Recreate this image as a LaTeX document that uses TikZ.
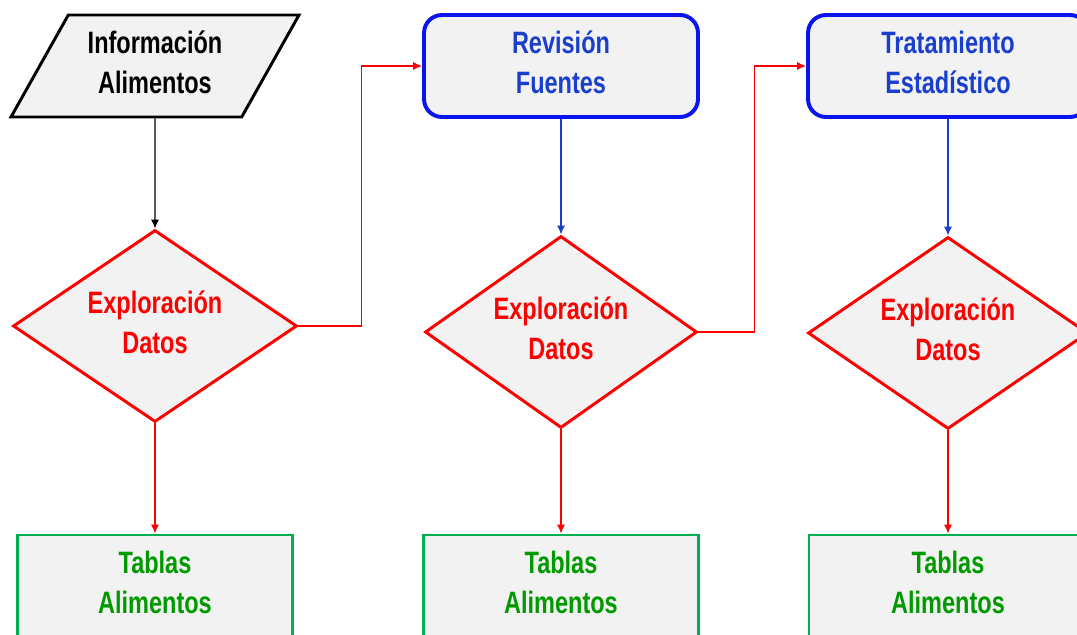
\documentclass[tikz,border=0pt]{standalone}
\usepackage{fontspec}
\setmainfont{Liberation Sans}[FakeStretch=0.76]
\usepackage{tikz}
\usetikzlibrary{arrows.meta,positioning,shapes.geometric}

\definecolor{cajagris}{HTML}{F2F2F2}
\definecolor{azulborde}{HTML}{0A14F0}
\definecolor{azultexto}{HTML}{1A3FCC}
\definecolor{verdeborde}{HTML}{00B050}
\definecolor{verdetexto}{HTML}{009A00}

\tikzset{
    base/.style={fill=cajagris, align=center, inner sep=0pt, text depth=0.2cm,
        font=\bfseries\fontsize{22}{28.5}\selectfont},
    entrada/.style={base, trapezium, trapezium left angle=51, trapezium right angle=129,
        trapezium stretches body, draw=black, line width=2.1pt,
        minimum width=7.2cm, minimum height=2.55cm},
    proceso/.style={base, rectangle, rounded corners=0.45cm, draw=azulborde,
        text=azultexto, line width=2.8pt, minimum width=6.85cm, minimum height=2.55cm},
    decision/.style={base, diamond, aspect=1.45, draw=red, text=red,
        line width=2.1pt, minimum width=7cm, minimum height=4.8cm},
    salida/.style={base, rectangle, draw=verdeborde, text=verdetexto,
        line width=2.1pt, minimum width=6.87cm, minimum height=2.55cm},
    flecha/.style={-{Latex[length=0.22cm,width=0.2cm]}, line width=0.9pt}
}

\begin{document}
\begin{tikzpicture}[on grid]
            \useasboundingbox (0,0) rectangle (26.925,-15.875);
            \node[entrada] (info) at (3.875,-1.65) {Información\\Alimentos};
            \node[decision, minimum width=7.1cm, below=6.5cm of info] (expl1) {Exploración\\Datos};
            \node[salida, below=6.5cm of expl1] (tabla1) {Tablas\\Alimentos};
            \node[proceso, right=10.15cm of info] (rev) {Revisión\\Fuentes};
            \node[decision, minimum width=6.8cm, below=6.65cm of rev] (expl2) {Exploración\\Datos};
            \node[salida, below=6.35cm of expl2] (tabla2) {Tablas\\Alimentos};
            \node[proceso, minimum width=7cm, right=9.675cm of rev] (est) {Tratamiento\\Estadístico};
            \node[decision, below=6.675cm of est] (expl3) {Exploración\\Datos};
            \node[salida, minimum width=6.95cm, below=6.325cm of expl3] (tabla3) {Tablas\\Alimentos};

            \draw[flecha, black] (info) -- (expl1);
            \draw[flecha, red] (expl1) -- (tabla1);
            \draw[flecha, red] (expl1.east) -- ++(1.575,0) |- (rev.west);
            \draw[flecha, azultexto] (rev) -- (expl2);
            \draw[flecha, red] (expl2) -- (tabla2);
            \draw[flecha, red] (expl2.east) -- ++(1.4,0) |- (est.west);
            \draw[flecha, azultexto] (est) -- (expl3);
            \draw[flecha, red] (expl3) -- (tabla3);
        \end{tikzpicture}
\end{document}
